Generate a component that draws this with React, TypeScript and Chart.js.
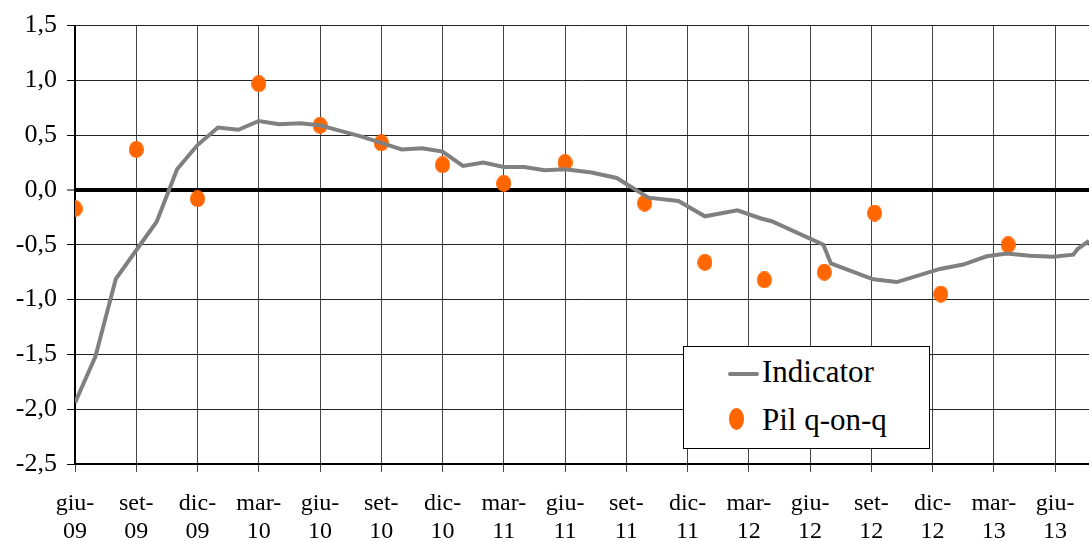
import React, { useEffect, useRef } from "react";
import { Chart, registerables } from "chart.js";

Chart.register(...registerables);

// Quarterly tick labels (every 3 months from giu-09)
const tickMonths = ["giu", "set", "dic", "mar", "giu", "set", "dic", "mar", "giu", "set", "dic", "mar", "giu", "set", "dic", "mar", "giu"];
const tickYears = ["09", "09", "09", "10", "10", "10", "10", "11", "11", "11", "11", "12", "12", "12", "12", "13", "13"];

// Indicator: x = months since giu-09
const indicatorMonths = [0, 1, 2, 3, 4, 5, 6, 7, 8, 9, 10, 11, 12, 13, 14, 15, 16, 17, 18, 19, 20, 21, 22, 23, 24, 25.3, 26.53, 28.08, 29.55, 30.85, 32.44, 33.6, 34.12, 36.65, 37.02, 39.09, 40.25, 42.36, 43.5, 44.65, 45.63, 46.77, 47.91, 48.89, 49.09, 49.66];
const indicatorValues = [-1.94, -1.52, -0.81, -0.55, -0.29, 0.19, 0.41, 0.57, 0.55, 0.63, 0.6, 0.61, 0.59, 0.54, 0.49, 0.43, 0.37, 0.38, 0.35, 0.22, 0.25, 0.21, 0.21, 0.18, 0.19, 0.16, 0.11, -0.07, -0.1, -0.24, -0.185, -0.26, -0.285, -0.5, -0.67, -0.815, -0.84, -0.72, -0.68, -0.605, -0.58, -0.6, -0.61, -0.59, -0.54, -0.465];

// Pil q-on-q
const pilMonths = [0, 3, 6, 9, 12, 15, 18, 21, 24, 27.9, 30.85, 33.76, 36.7, 39.16, 42.4, 45.7];
const pilValues = [-0.17, 0.37, -0.08, 0.97, 0.59, 0.43, 0.23, 0.06, 0.25, -0.12, -0.66, -0.82, -0.75, -0.21, -0.95, -0.5];

const X_MAX = 49.66;
const FONT = "'Liberation Serif', 'Times New Roman', serif";
const ORANGE = "#FF6600";
const GREY = "#808080";

function makeEllipse(w: number, h: number, color: string) {
  const c = document.createElement("canvas");
  c.width = w;
  c.height = h;
  const ctx = c.getContext("2d")!;
  ctx.fillStyle = color;
  ctx.beginPath();
  ctx.ellipse(w / 2, h / 2, w / 2, h / 2, 0, 0, Math.PI * 2);
  ctx.fill();
  return c;
}

export default function App() {
  const ref = useRef<HTMLCanvasElement>(null);

  useEffect(() => {
    document.body.style.margin = "0";
    const dot = makeEllipse(15, 17, ORANGE);
    const chart = new Chart(ref.current!, {
      type: "line",
      data: {
        datasets: [
          {
            label: "Indicator",
            data: indicatorMonths.map((m, i) => ({ x: m, y: indicatorValues[i] })),
            borderColor: GREY,
            backgroundColor: GREY,
            borderWidth: 4,
            pointRadius: 0,
            tension: 0,
            fill: false,
          },
          {
            label: "Pil q-on-q",
            data: pilMonths.map((m, i) => ({ x: m, y: pilValues[i] })),
            showLine: false,
            pointStyle: dot as any,
            pointRadius: 8,
            backgroundColor: ORANGE,
            borderColor: ORANGE,
          },
        ],
      },
      options: {
        animation: false,
        responsive: false,
        maintainAspectRatio: false,
        layout: { autoPadding: false, padding: { top: 23, right: 0, left: 0, bottom: 0 } },
        plugins: { legend: { display: false }, tooltip: { enabled: false } },
        scales: {
          x: {
            type: "linear",
            min: 0,
            max: X_MAX,
            afterFit: (s: any) => {
              s.height = 77;
              s.paddingRight = 0;
              s.paddingLeft = 0;
            },
            ticks: {
              stepSize: 3,
              includeBounds: false,
              autoSkip: false,
              maxRotation: 0,
              padding: 17,
              color: "#000",
              font: { family: FONT, size: 24, lineHeight: 1.2 },
              callback: (v: any) => {
                const i = Math.round(Number(v) / 3);
                if (i < 0 || i >= tickMonths.length) return "";
                return [tickMonths[i] + "-", tickYears[i]];
              },
            },
            grid: { color: "#444", lineWidth: 1, tickLength: 8, drawTicks: true },
            border: { color: "#000", width: 2 },
          },
          y: {
            min: -2.5,
            max: 1.5,
            afterFit: (s: any) => {
              s.width = 75;
            },
            ticks: {
              stepSize: 0.5,
              padding: 10,
              color: "#000",
              font: { family: FONT, size: 26 },
              callback: (v: any) => Number(v).toFixed(1).replace(".", ","),
            },
            grid: {
              color: (c: any) => (c.tick && c.tick.value === 0 ? "#000" : "#222"),
              lineWidth: (c: any) => (c.tick && c.tick.value === 0 ? 4 : 1),
              tickLength: 8,
              tickColor: "#000",
              tickWidth: 1,
            } as any,
            border: { color: "#000", width: 2 },
          },
        },
      },
    });
    return () => chart.destroy();
  }, []);

  return (
    <div style={{ position: "relative", width: 1089, height: 541, fontFamily: FONT }}>
      <canvas ref={ref} width={1089} height={541} style={{ display: "block" }} />
      <div
        style={{
          position: "absolute",
          left: 683,
          top: 346,
          width: 245,
          height: 101,
          background: "#fff",
          border: "1px solid #000",
          color: "#000",
          fontSize: 31,
        }}
      >
        <div style={{ position: "absolute", left: 44, top: 25, width: 31, height: 4, background: GREY, borderRadius: 2 }} />
        <div style={{ position: "absolute", left: 78, top: 5, lineHeight: "40px", whiteSpace: "nowrap" }}>Indicator</div>
        <div style={{ position: "absolute", left: 45, top: 61, width: 15, height: 22, background: ORANGE, borderRadius: "50%" }} />
        <div style={{ position: "absolute", left: 78, top: 53, lineHeight: "40px", whiteSpace: "nowrap" }}>Pil q-on-q</div>
      </div>
    </div>
  );
}
